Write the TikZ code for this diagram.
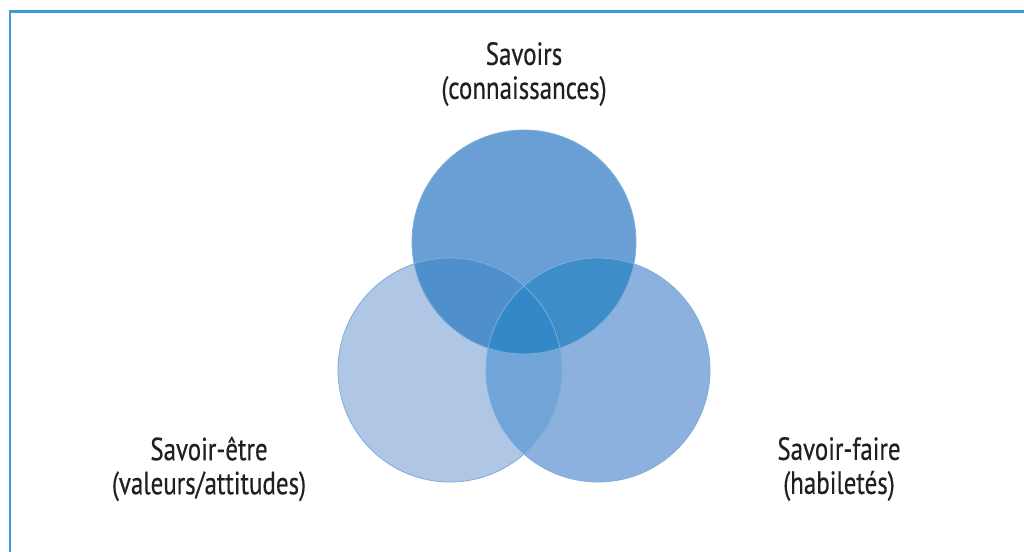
\documentclass[tikz,border=0pt]{standalone}
\usepackage{fontspec}
\setmainfont{PT Sans}[FakeStretch=0.78,FakeBold=0.4]
\definecolor{frame}{HTML}{3B9BD8}
\definecolor{txt}{HTML}{231F20}
\definecolor{cL}{HTML}{B0C6E5}
\definecolor{cT}{HTML}{6A9FD6}
\definecolor{cR}{HTML}{8DB1DE}
\definecolor{cLT}{HTML}{4F90CC}
\definecolor{cTR}{HTML}{3D8DC9}
\definecolor{cLR}{HTML}{72A5D7}
\definecolor{cLTR}{HTML}{3388C8}
\definecolor{edge}{HTML}{7AAEDD}
\begin{document}
\begin{tikzpicture}[x=0.75pt,y=-0.75pt,
  lbl/.style={align=center,text=txt,font=\fontsize{24}{25.5}\selectfont,inner sep=0pt},
  ring/.style={draw=edge,line width=0.6pt}]
\useasboundingbox (0,0) rectangle (1024,552);
\fill[white] (0,0) rectangle (1024,552);
\clip (0,0) rectangle (1024,552);
\draw[frame,line width=2.2pt] (10,11.5) rectangle (1040,570);
\coordinate (T) at (524,242);
\coordinate (L) at (450,370);
\coordinate (R) at (598,370);
\def\rr{112}
% single circles
\fill[cL] (L) circle[radius=\rr];
\fill[cR] (R) circle[radius=\rr];
\fill[cT] (T) circle[radius=\rr];
% pairwise
\begin{scope}\clip (L) circle[radius=\rr]; \fill[cLT] (T) circle[radius=\rr]; \end{scope}
\begin{scope}\clip (R) circle[radius=\rr]; \fill[cTR] (T) circle[radius=\rr]; \end{scope}
\begin{scope}\clip (L) circle[radius=\rr]; \fill[cLR] (R) circle[radius=\rr]; \end{scope}
\begin{scope}\clip (L) circle[radius=\rr]; \clip (R) circle[radius=\rr]; \fill[cLTR] (T) circle[radius=\rr]; \end{scope}
% outlines
\draw[ring] (L) circle[radius=\rr];
\draw[ring] (R) circle[radius=\rr];
\draw[ring] (T) circle[radius=\rr];
% labels
\node[lbl] (savoirs) at (524,74) {Savoirs\\(connaissances)};
\node[lbl] (etre) at (209,469) {Savoir-être\\(valeurs/attitudes)};
\node[lbl] (faire) at (839,469) {Savoir-faire\\(habiletés)};
\end{tikzpicture}
\end{document}
